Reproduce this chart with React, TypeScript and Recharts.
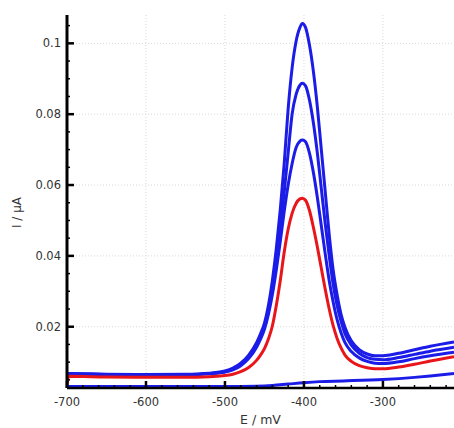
import React from 'react';
import { LineChart, Line, XAxis, YAxis, CartesianGrid } from 'recharts';

// potential axis (mV)
const potentials = [
  -700, -698, -650, -600, -550, -520, -500, -490, -480, -470, -460, -455, -450, -445, -440, -435,
  -430, -425, -420, -415, -410, -405, -402, -398, -393, -388, -383, -378, -373, -368, -363, -358,
  -353, -348, -340, -330, -320, -310, -300, -280, -260, -240, -210,
];

// current (uA) for each scan
const blueLow = [
  0.0066, 0.0066, 0.0064, 0.0063, 0.0064, 0.0067, 0.0072, 0.0078, 0.009, 0.011, 0.0142, 0.0165, 0.0193, 0.0235, 0.029, 0.036,
  0.044, 0.0525, 0.06, 0.066, 0.0705, 0.0724, 0.0727, 0.0722, 0.069, 0.0635, 0.0565, 0.0485, 0.0405, 0.033, 0.027, 0.022,
  0.0183, 0.0155, 0.013, 0.0112, 0.0102, 0.0097, 0.0096, 0.0101, 0.011, 0.0118, 0.0128,
];
const blueMid = [
  0.0067, 0.0067, 0.0065, 0.0064, 0.0065, 0.0068, 0.0073, 0.008, 0.0093, 0.0115, 0.0148, 0.0172, 0.02, 0.0245, 0.031, 0.039,
  0.048, 0.058, 0.069, 0.08, 0.0855, 0.0882, 0.0887, 0.088, 0.084, 0.0775, 0.069, 0.059, 0.049, 0.04, 0.032, 0.026,
  0.0215, 0.018, 0.0148, 0.0125, 0.0113, 0.0108, 0.0107, 0.0113, 0.0122, 0.0131, 0.0142,
];
const blueHigh = [
  0.0068, 0.0068, 0.0066, 0.0065, 0.0066, 0.0069, 0.0075, 0.0083, 0.0097, 0.012, 0.0155, 0.018, 0.021, 0.026, 0.033, 0.042,
  0.053, 0.066, 0.0815, 0.093, 0.1005, 0.1045, 0.1056, 0.1045, 0.0995, 0.092, 0.082, 0.07, 0.058, 0.046, 0.036, 0.029,
  0.0235, 0.0198, 0.016, 0.0135, 0.0123, 0.0118, 0.0118, 0.0125, 0.0135, 0.0145, 0.0157,
];
const red = [
  0.0034, 0.006, 0.0058, 0.0057, 0.0057, 0.0059, 0.0062, 0.0066, 0.0073, 0.0085, 0.0105, 0.012, 0.0138, 0.0165, 0.0202, 0.026,
  0.033, 0.041, 0.0475, 0.052, 0.0548, 0.0561, 0.0563, 0.0557, 0.0528, 0.048, 0.0425, 0.0365, 0.0305, 0.025, 0.0203, 0.0167,
  0.014, 0.012, 0.0102, 0.009, 0.0084, 0.0081, 0.0081, 0.0086, 0.0094, 0.0103, 0.0115,
];

// blank scan
const blankPotentials = [-700, -600, -500, -460, -440, -420, -400, -380, -350, -300, -260, -240, -210];
const blank = [0.0031, 0.0031, 0.0031, 0.0032, 0.0034, 0.0038, 0.0042, 0.0045, 0.0047, 0.0051, 0.0057, 0.0061, 0.0068];

const xMajor = [-700, -600, -500, -400, -300];
const xMinor = [-680, -660, -640, -620, -580, -560, -540, -520, -480, -460, -440, -420, -380, -360, -340, -320, -280, -260, -240, -220];
const yMajor = [0.02, 0.04, 0.06, 0.08, 0.1];
const yMinor = [0.005, 0.01, 0.015, 0.025, 0.03, 0.035, 0.045, 0.05, 0.055, 0.065, 0.07, 0.075, 0.085, 0.09, 0.095, 0.105];

const rows = potentials.map((e, i) => ({ e, b1: blueLow[i], b2: blueMid[i], b3: blueHigh[i], r: red[i] }));
const blankRows = blankPotentials.map((e, i) => ({ e, b0: blank[i] }));

const FONT = '"DejaVu Sans", Verdana, sans-serif';
const BLUE = '#1c1ce8';
const RED = '#e8161b';

const XTick = (props: any) => {
  const { x, y, payload } = props;
  const major = xMajor.includes(payload.value);
  return (
    <g>
      <line x1={x} x2={x} y1={y} y2={y - (major ? 7 : 3)} stroke="#000" strokeWidth={major ? 2.5 : 1.5} />
      {major && (
        <text x={x} y={y + 18} textAnchor="middle" fontSize={11.5} fontFamily={FONT} fill="#333">
          {payload.value}
        </text>
      )}
    </g>
  );
};

const YTick = (props: any) => {
  const { x, y, payload } = props;
  const major = yMajor.includes(payload.value);
  return (
    <g>
      <line x1={x} x2={x + (major ? 7 : 3)} y1={y} y2={y} stroke="#000" strokeWidth={major ? 2.5 : 1.5} />
      {major && (
        <text x={x - 6} y={y + 4} textAnchor="end" fontSize={11.5} fontFamily={FONT} fill="#333">
          {String(payload.value)}
        </text>
      )}
    </g>
  );
};

const YLabel = (props: any) => {
  const vb = props.viewBox || { x: 0, y: 15, height: 373 };
  const cx = vb.x + 17;
  const cy = vb.y + vb.height / 2 + 11;
  return (
    <text x={cx} y={cy} transform={`rotate(-90 ${cx} ${cy})`} textAnchor="middle" dominantBaseline="central"
      fontSize={12} fontFamily={FONT} fill="#333">
      I / μA
    </text>
  );
};

export default function App() {
  return (
    <div style={{ position: 'absolute', left: 0, top: 0, background: '#fff' }}>
      <LineChart width={454} height={428} data={rows} margin={{ top: 15, right: 0, bottom: 0, left: 0 }}>
        <CartesianGrid
          stroke="#d9d9d9"
          strokeDasharray="1 2"
          horizontalValues={yMajor}
          verticalValues={xMajor.slice(1)}
        />
        <XAxis
          type="number"
          dataKey="e"
          domain={[-700, -210]}
          allowDataOverflow
          ticks={[...xMajor, ...xMinor].sort((a, b) => a - b)}
          interval={0}
          height={40}
          tickSize={0}
          tickMargin={0}
          tick={<XTick />}
          axisLine={{ stroke: '#000', strokeWidth: 2.5 }}
          label={{ value: 'E / mV', position: 'insideBottom', offset: 4, fill: '#333', fontSize: 12.5, fontFamily: FONT }}
        />
        <YAxis
          type="number"
          domain={[0.0027, 0.108]}
          allowDataOverflow
          ticks={[...yMajor, ...yMinor].sort((a, b) => a - b)}
          interval={0}
          width={67}
          tickSize={0}
          tickMargin={0}
          tick={<YTick />}
          axisLine={{ stroke: '#000', strokeWidth: 3 }}
          label={<YLabel />}
        />
        <Line type="monotone" dataKey="b3" stroke={BLUE} strokeWidth={3} dot={false} isAnimationActive={false} />
        <Line type="monotone" dataKey="b2" stroke={BLUE} strokeWidth={3} dot={false} isAnimationActive={false} />
        <Line type="monotone" dataKey="b1" stroke={BLUE} strokeWidth={3} dot={false} isAnimationActive={false} />
        <Line type="monotone" dataKey="r" stroke={RED} strokeWidth={3} dot={false} isAnimationActive={false} />
        <Line type="monotone" data={blankRows} dataKey="b0" stroke={BLUE} strokeWidth={3} dot={false} isAnimationActive={false} />
      </LineChart>
    </div>
  );
}
